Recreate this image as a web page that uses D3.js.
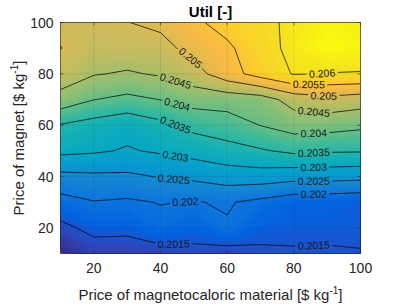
<!DOCTYPE html>
<html>
<head>
<meta charset="utf-8">
<script src="https://cdn.jsdelivr.net/npm/d3@7"></script>
<style>
  body { margin: 0; background: #fff; }
  text { font-family: "Liberation Sans", Arial, sans-serif; }
</style>
</head>
<body>
<svg id="chart" width="407" height="305"></svg>
<script>
// grid of the runs
const priceMaterial = [10, 20, 30, 40, 50, 60, 70, 80, 90, 100];
const priceMagnet = [10, 20, 30, 40, 50, 60, 70, 80, 90, 100];

// utilization, one row per magnet price, columns follow priceMaterial
const util_m10  = [0.20100, 0.20127, 0.20127, 0.20130, 0.20139, 0.20130, 0.20142, 0.20146, 0.20145, 0.20148];
const util_m20  = [0.20138, 0.20163, 0.20161, 0.20185, 0.20168, 0.20196, 0.20165, 0.20160, 0.20160, 0.20158];
const util_m30  = [0.20182, 0.20198, 0.20193, 0.20202, 0.20198, 0.20204, 0.20188, 0.20170, 0.20168, 0.20162];
const util_m40  = [0.20237, 0.20241, 0.20241, 0.20253, 0.20261, 0.20275, 0.20277, 0.20268, 0.20268, 0.20265];
const util_m50  = [0.20312, 0.20306, 0.20296, 0.20306, 0.20319, 0.20332, 0.20345, 0.20360, 0.20355, 0.20354];
const util_m60  = [0.20347, 0.20331, 0.20316, 0.20337, 0.20364, 0.20378, 0.20401, 0.20421, 0.20419, 0.20410];
const util_m70  = [0.20431, 0.20401, 0.20388, 0.20401, 0.20420, 0.20420, 0.20427, 0.20470, 0.20485, 0.20474];
const util_m80  = [0.20480, 0.20453, 0.20445, 0.20455, 0.20480, 0.20530, 0.20570, 0.20603, 0.20599, 0.20598];
const util_m90  = [0.20501, 0.20480, 0.20480, 0.20483, 0.20518, 0.20540, 0.20585, 0.20610, 0.20625, 0.20620];
const util_m100 = [0.20490, 0.20490, 0.20499, 0.20511, 0.20540, 0.20570, 0.20590, 0.20608, 0.20620, 0.20615];

const levels = [0.2015, 0.202, 0.2025, 0.203, 0.2035, 0.204, 0.2045, 0.205, 0.2055, 0.206];
const levelText = ["0.2015", "0.202", "0.2025", "0.203", "0.2035", "0.204", "0.2045", "0.205", "0.2055", "0.206"];
const xTicks = [20, 40, 60, 80, 100];
const yTicks = [20, 40, 60, 80, 100];

// parula (every 4th entry of the 64 colour table)
const parulaStops = [0, 4, 8, 12, 16, 20, 24, 28, 32, 36, 40, 44, 48, 52, 56, 60, 63];
const parulaRGB = [
  [0.2081, 0.1663, 0.5292], [0.1959, 0.2645, 0.7279], [0.0117, 0.3875, 0.8820],
  [0.0498, 0.4586, 0.8641], [0.0793, 0.5200, 0.8312], [0.0343, 0.5966, 0.8199],
  [0.0228, 0.6535, 0.7768], [0.0843, 0.6928, 0.7062], [0.2178, 0.7250, 0.6193],
  [0.3953, 0.7459, 0.5244], [0.5709, 0.7485, 0.4494], [0.7184, 0.7411, 0.3905],
  [0.8507, 0.7299, 0.3360], [0.9739, 0.7314, 0.2666], [0.9880, 0.8066, 0.1794],
  [0.9626, 0.8705, 0.1309], [0.9763, 0.9831, 0.0538]
];

const rows = [util_m10, util_m20, util_m30, util_m40, util_m50, util_m60, util_m70, util_m80, util_m90, util_m100];

var width = 407, height = 305;
var plot = { left: 60.5, right: 360.5, top: 22.5, bottom: 253.5 };

var svg = d3.select("#chart");

var x = d3.scaleLinear().domain([10, 100]).range([plot.left, plot.right]);
var y = d3.scaleLinear().domain([10, 100]).range([plot.bottom, plot.top]);

var nx = priceMaterial.length, ny = priceMagnet.length;

// pad the grid by repeating its edges so contour rings close outside the axes
var grid = [];
for (var j = -1; j <= ny; j++) {
    var r = rows[Math.max(0, Math.min(ny - 1, j))];
    for (var i = -1; i <= nx; i++) grid.push(r[Math.max(0, Math.min(nx - 1, i))]);
}
// contour coords -> data coords (value k sits at k + 1.5 in the padded grid)
var gx = d3.scaleLinear().domain([1.5, nx + 0.5]).range([priceMaterial[0], priceMaterial[nx - 1]]);
var gy = d3.scaleLinear().domain([1.5, ny + 0.5]).range([priceMagnet[0], priceMagnet[ny - 1]]);

var proj = d3.geoTransform({
    point: function(px, py) { this.stream.point(x(gx(px)), y(gy(py))); }
});
var path = d3.geoPath(proj);

var zmin = d3.min(rows, r => d3.min(r)), zmax = d3.max(rows, r => d3.max(r));
var parula = d3.scaleLinear()
    .domain(parulaStops.map(s => s / 63))
    .range(parulaRGB.map(c => d3.rgb(c[0] * 255, c[1] * 255, c[2] * 255)))
    .interpolate(d3.interpolateRgb);
var color = v => parula((v - zmin) / (zmax - zmin));

var defs = svg.append("defs");
defs.append("clipPath").attr("id", "plotclip")
    .append("rect")
    .attr("x", plot.left).attr("y", plot.top)
    .attr("width", plot.right - plot.left).attr("height", plot.bottom - plot.top);

var contours = d3.contours().size([nx + 2, ny + 2]);

// smooth fill: many thin bands
var nBands = 160;
var fillLevels = d3.range(nBands).map(k => zmin + (zmax - zmin) * k / nBands);
var fillG = svg.append("g").attr("clip-path", "url(#plotclip)");
fillG.append("rect")
    .attr("x", plot.left).attr("y", plot.top)
    .attr("width", plot.right - plot.left).attr("height", plot.bottom - plot.top)
    .attr("fill", color(zmin));
fillG.selectAll("path.band")
    .data(contours.thresholds(fillLevels)(grid))
    .join("path")
    .attr("class", "band")
    .attr("d", path)
    .attr("fill", d => color(d.value + (zmax - zmin) / nBands / 2));

// grid lines
var gridG = svg.append("g");
xTicks.forEach(function(t) {
    gridG.append("line").attr("x1", x(t)).attr("x2", x(t)).attr("y1", plot.top).attr("y2", plot.bottom);
});
yTicks.forEach(function(t) {
    gridG.append("line").attr("x1", plot.left).attr("x2", plot.right).attr("y1", y(t)).attr("y2", y(t));
});
gridG.selectAll("line").attr("stroke", "#262626").attr("stroke-opacity", 0.15).attr("stroke-width", 0.6);

// contour lines
var lineData = contours.thresholds(levels)(grid);

// label spots (material price where each label sits)
var labelAt = {
    "0.2015": [44, 86], "0.202": [47.5, 86], "0.2025": [44, 86], "0.203": [44.5, 86],
    "0.2035": [44.5, 86], "0.204": [45, 86], "0.2045": [44.5, 86], "0.205": [49, 89],
    "0.2055": [84.5], "0.206": [88.5]
};

function findOnLine(c, tx) {
    var hits = [];
    c.coordinates.forEach(function(poly) {
        poly.forEach(function(ring) {
            for (var k = 1; k < ring.length; k++) {
                var ax = gx(ring[k - 1][0]), ay = gy(ring[k - 1][1]);
                var bx = gx(ring[k][0]), by = gy(ring[k][1]);
                if ((ax - tx) * (bx - tx) <= 0 && ax != bx) {
                    var yy = ay + (tx - ax) / (bx - ax) * (by - ay);
                    if (yy > 10.5 && yy < 99.5) hits.push(yy);
                }
            }
        });
    });
    return hits.length ? hits[0] : null;
}

var labels = [];
lineData.forEach(function(c, li) {
    var key = levelText[li];
    (labelAt[key] || []).forEach(function(tx) {
        var yy = findOnLine(c, tx);
        if (yy == null) return;
        var y0 = findOnLine(c, tx - 3), y1 = findOnLine(c, tx + 3);
        var ang = 0;
        if (y0 != null && y1 != null) {
            ang = Math.atan2(y(y1) - y(y0), x(tx + 3) - x(tx - 3)) * 180 / Math.PI;
        }
        labels.push({ text: key, px: x(tx), py: y(yy), ang: ang });
    });
});

var mask = defs.append("mask").attr("id", "lblmask").attr("maskUnits", "userSpaceOnUse")
    .attr("x", 0).attr("y", 0).attr("width", width).attr("height", height);
mask.append("rect").attr("x", 0).attr("y", 0).attr("width", width).attr("height", height).attr("fill", "#fff");

var lineG = svg.append("g").attr("clip-path", "url(#plotclip)");
lineG.append("g").attr("mask", "url(#lblmask)")
    .selectAll("path")
    .data(lineData)
    .join("path")
    .attr("d", path)
    .attr("fill", "none")
    .attr("stroke", "#000")
    .attr("stroke-width", 0.7);

var labelG = svg.append("g");
labels.forEach(function(l) {
    var t = labelG.append("text")
        .attr("transform", "translate(" + l.px + "," + l.py + ") rotate(" + l.ang + ")")
        .attr("text-anchor", "middle")
        .attr("dy", "0.35em")
        .attr("font-size", "10.5px")
        .attr("fill", "#1a1a1a")
        .text(l.text);
    var w = t.node().getComputedTextLength() + 5;
    mask.append("rect")
        .attr("x", -w / 2).attr("y", -5).attr("width", w).attr("height", 10)
        .attr("transform", "translate(" + l.px + "," + l.py + ") rotate(" + l.ang + ")")
        .attr("fill", "#000");
});

// axes box and ticks
var axisG = svg.append("g").attr("stroke", "#262626").attr("stroke-width", 0.6);
axisG.append("rect")
    .attr("x", plot.left).attr("y", plot.top)
    .attr("width", plot.right - plot.left).attr("height", plot.bottom - plot.top)
    .attr("fill", "none");
xTicks.forEach(function(t) {
    axisG.append("line").attr("x1", x(t)).attr("x2", x(t)).attr("y1", plot.bottom).attr("y2", plot.bottom - 3);
    axisG.append("line").attr("x1", x(t)).attr("x2", x(t)).attr("y1", plot.top).attr("y2", plot.top + 3);
});
yTicks.forEach(function(t) {
    axisG.append("line").attr("x1", plot.left).attr("x2", plot.left + 3).attr("y1", y(t)).attr("y2", y(t));
    axisG.append("line").attr("x1", plot.right).attr("x2", plot.right - 3).attr("y1", y(t)).attr("y2", y(t));
});

svg.append("g").selectAll("text")
    .data(xTicks)
    .join("text")
    .attr("x", d => x(d)).attr("y", 273)
    .attr("text-anchor", "middle")
    .attr("font-size", "14px").attr("fill", "#262626")
    .text(d => d);

svg.append("g").selectAll("text")
    .data(yTicks)
    .join("text")
    .attr("x", plot.left - 7).attr("y", d => y(d))
    .attr("dy", "0.36em")
    .attr("text-anchor", "end")
    .attr("font-size", "14px").attr("fill", "#262626")
    .text(d => d);

// title and axis labels
svg.append("text")
    .attr("x", (plot.left + plot.right) / 2).attr("y", 17)
    .attr("text-anchor", "middle")
    .attr("font-size", "15px").attr("font-weight", "bold").attr("fill", "#000")
    .text("Util [-]");

var xl = svg.append("text")
    .attr("x", (plot.left + plot.right) / 2).attr("y", 300)
    .attr("text-anchor", "middle")
    .attr("font-size", "15px").attr("fill", "#262626");
xl.append("tspan").text("Price of magnetocaloric material [$ kg");
xl.append("tspan").attr("dy", -6).attr("font-size", "10px").text("-1");
xl.append("tspan").attr("dy", 6).text("]");

var yl = svg.append("text")
    .attr("transform", "translate(24," + (plot.top + plot.bottom) / 2 + ") rotate(-90)")
    .attr("text-anchor", "middle")
    .attr("font-size", "15px").attr("fill", "#262626");
yl.append("tspan").text("Price of magnet [$ kg");
yl.append("tspan").attr("dy", -6).attr("font-size", "10px").text("-1");
yl.append("tspan").attr("dy", 6).text("]");
</script>
</body>
</html>
